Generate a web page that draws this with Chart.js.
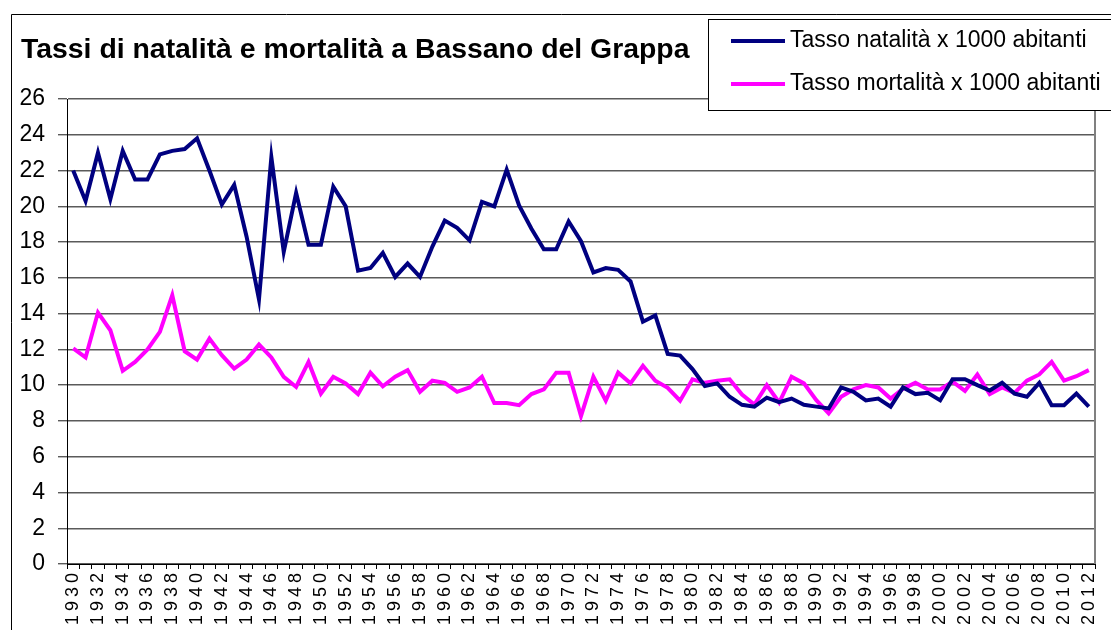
<!DOCTYPE html>
<html>
<head>
<meta charset="utf-8">
<script src="https://cdn.jsdelivr.net/npm/chart.js@4"></script>
<style>
  body { margin: 0; background: #fff; }
</style>
</head>
<body>
<canvas id="rates" width="1111" height="630"></canvas>
<script>
    // years on the x axis (1930-2012)
    const years = [
        '1930','1931','1932','1933','1934','1935','1936','1937','1938','1939',
        '1940','1941','1942','1943','1944','1945','1946','1947','1948','1949',
        '1950','1951','1952','1953','1954','1955','1956','1957','1958','1959',
        '1960','1961','1962','1963','1964','1965','1966','1967','1968','1969',
        '1970','1971','1972','1973','1974','1975','1976','1977','1978','1979',
        '1980','1981','1982','1983','1984','1985','1986','1987','1988','1989',
        '1990','1991','1992','1993','1994','1995','1996','1997','1998','1999',
        '2000','2001','2002','2003','2004','2005','2006','2007','2008','2009',
        '2010','2011','2012'
    ];

    // birth rate per 1000 inhabitants
    const natalita = [
        22.0, 20.3, 23.0, 20.4, 23.1, 21.5, 21.5, 22.9, 23.1, 23.2,
        23.8, 22.0, 20.1, 21.2, 18.3, 14.8, 22.75, 17.45, 20.75, 17.85,
        17.85, 21.1, 20.0, 16.4, 16.55, 17.4, 16.05, 16.8, 16.05, 17.75,
        19.2, 18.8, 18.1, 20.25, 20.0, 22.05, 20.05, 18.75, 17.6, 17.6,
        19.15, 18.05, 16.3, 16.55, 16.45, 15.8, 13.55, 13.9, 11.75, 11.65,
        10.9, 9.95, 10.1, 9.35, 8.9, 8.8, 9.3, 9.05, 9.25, 8.9,
        8.8, 8.7, 9.87, 9.63, 9.15, 9.25, 8.8, 9.87, 9.5, 9.57,
        9.15, 10.33, 10.33, 10.0, 9.7, 10.13, 9.53, 9.35, 10.13, 8.88,
        8.88, 9.53, 8.8
    ];

    // death rate per 1000 inhabitants
    const mortalita = [
        12.05, 11.55, 14.06, 13.07, 10.8, 11.3, 12.0, 12.98, 15.03, 11.9,
        11.43, 12.6, 11.68, 10.93, 11.43, 12.27, 11.55, 10.46, 9.9, 11.3,
        9.53, 10.47, 10.1, 9.5, 10.7, 9.94, 10.47, 10.84, 9.63, 10.25,
        10.13, 9.63, 9.87, 10.47, 9.0, 9.0, 8.88, 9.5, 9.76, 10.7,
        10.7, 8.27, 10.47, 9.13, 10.7, 10.1, 11.08, 10.25, 9.85, 9.13,
        10.33, 10.13, 10.25, 10.33, 9.48, 8.92, 10.0, 9.03, 10.47, 10.1,
        9.16, 8.42, 9.35, 9.76, 10.0, 9.87, 9.25, 9.8, 10.13, 9.76,
        9.76, 10.19, 9.68, 10.6, 9.5, 9.87, 9.57, 10.25, 10.6, 11.3,
        10.25, 10.5, 10.84
    ];

    const titleText = 'Tassi di natalità e mortalità a Bassano del Grappa';
    const seriesNames = ['Tasso natalità x 1000 abitanti', 'Tasso mortalità x 1000 abitanti'];
    const FONT = "'Liberation Sans', Arial, sans-serif";

    // frame, title, legend box and the grey right edge of the plot
    const decor = {
        id: 'decor',
        beforeDraw(chart) {
            const c = chart.ctx;
            // stretch the year labels like the original export
            const xs = chart.scales.x;
            if (!xs._spaced) {
                const orig = xs.drawLabels;
                xs.drawLabels = function (area) {
                    this.ctx.save();
                    this.ctx.letterSpacing = '4px';
                    orig.call(this, area);
                    this.ctx.restore();
                };
                xs._spaced = true;
            }
            c.save();
            c.fillStyle = '#fff';
            c.fillRect(0, 0, chart.width, chart.height);
            c.strokeStyle = '#000';
            c.lineWidth = 1;
            c.beginPath();
            c.moveTo(11.5, chart.height);
            c.lineTo(11.5, 14.5);
            c.lineTo(chart.width, 14.5);
            c.stroke();
            c.restore();
        },
        afterDraw(chart) {
            const c = chart.ctx;
            const a = chart.chartArea;
            c.save();
            c.strokeStyle = '#808080';
            c.lineWidth = 2;
            c.beginPath();
            c.moveTo(a.right, a.top);
            c.lineTo(a.right, a.bottom);
            c.stroke();

            c.fillStyle = '#000';
            c.font = 'bold 28.4px ' + FONT;
            c.textBaseline = 'alphabetic';
            c.fillText(titleText, 21, 58);

            // legend
            c.fillStyle = '#fff';
            c.fillRect(708.5, 19.5, 420, 91);
            c.strokeStyle = '#000';
            c.lineWidth = 1;
            c.strokeRect(708.5, 19.5, 420, 91);
            c.font = '23px ' + FONT;
            c.textBaseline = 'middle';
            const rows = [41, 84];
            chart.data.datasets.forEach((ds, i) => {
                c.strokeStyle = ds.borderColor;
                c.lineWidth = 4;
                c.beginPath();
                c.moveTo(731, rows[i]);
                c.lineTo(785, rows[i]);
                c.stroke();
                c.fillStyle = '#000';
                c.fillText(ds.label, 790, rows[i]);
            });
            c.restore();
        }
    };

    const ctx = document.getElementById('rates').getContext('2d');
    new Chart(ctx, {
        type: 'line',
        data: {
            labels: years,
            datasets: [{
                label: seriesNames[0],
                data: natalita,
                borderColor: '#000080',
                borderWidth: 4,
                pointRadius: 0,
                tension: 0
            }, {
                label: seriesNames[1],
                data: mortalita,
                borderColor: '#ff00ff',
                borderWidth: 4,
                pointRadius: 0,
                tension: 0
            }]
        },
        options: {
            responsive: false,
            animation: false,
            layout: { padding: { left: 12, right: 16, top: 99, bottom: 0 } },
            plugins: {
                legend: { display: false },
                title: { display: false },
                tooltip: { enabled: false }
            },
            scales: {
                x: {
                    offset: true,
                    grid: {
                        offset: true,
                        drawOnChartArea: false,
                        tickLength: 5,
                        tickColor: '#000'
                    },
                    border: { color: '#000', width: 1 },
                    ticks: {
                        autoSkip: false,
                        minRotation: 90,
                        maxRotation: 90,
                        padding: 0,
                        color: '#000',
                        font: { family: FONT, size: 18 },
                        callback: function (value, index) {
                            return index % 2 === 0 ? years[index] : '';
                        }
                    },
                    afterFit: function (scale) { scale.height = 66; }
                },
                y: {
                    min: 0,
                    max: 26,
                    grid: { color: '#5a5a5a', lineWidth: 1.4, tickLength: 9 },
                    border: { color: '#000', width: 1 },
                    ticks: {
                        stepSize: 2,
                        padding: 13,
                        color: '#000',
                        font: { family: FONT, size: 23 }
                    },
                    afterFit: function (scale) { scale.width = 55; }
                }
            }
        },
        plugins: [decor]
    });
</script>
</body>
</html>
